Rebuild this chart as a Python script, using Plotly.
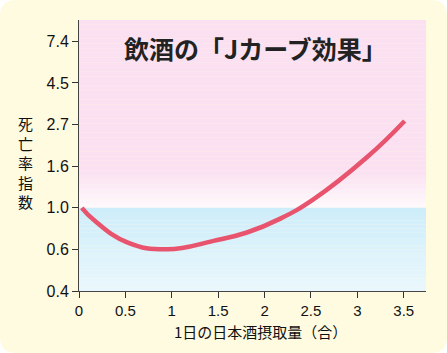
import math
import plotly.graph_objects as go

# data
intake_go = [0.03, 0.17, 0.52, 0.95, 1.45, 1.81, 2.17, 2.53, 3.10, 3.51]
mortality_index = [1.00, 0.855, 0.66, 0.607, 0.672, 0.743, 0.878, 1.11, 1.83, 2.84]

x_ticks = [0, 0.5, 1, 1.5, 2, 2.5, 3, 3.5]
x_ticklabels = ["0", "0.5", "1", "1.5", "2", "2.5", "3", "3.5"]
y_ticks = [math.exp(k / 2) for k in range(-2, 5)]
y_ticklabels = ["0.4", "0.6", "1.0", "1.6", "2.7", "4.5", "7.4"]

title_text = "飲酒の「Jカーブ効果」"
x_title = "1日の日本酒摂取量（合）"
y_title = "死亡率指数"

XMAX = 3.74
Y_LO = math.exp(-1)
Y_HI = math.exp(2.257)

W, H = 447, 353
ML, MR, MT, MB = 79, 21, 20, 62
PW, PH = W - ML - MR, H - MT - MB

def px_to_paper(px, py):
    return (px - ML) / PW, (H - MB - py) / PH

def lerp(c1, c2, t):
    return "rgb(%d,%d,%d)" % tuple(round(a + (b - a) * t) for a, b in zip(c1, c2))

shapes = []
# page background: rounded yellow card
r = 16
def P(px, py):
    x, y = px_to_paper(px, py)
    return "%.5f %.5f" % (x, y)
path = ("M " + P(r, 0) + " L " + P(W - r, 0) + " Q " + P(W, 0) + " " + P(W, r) +
        " L " + P(W, H - r) + " Q " + P(W, H) + " " + P(W - r, H) +
        " L " + P(r, H) + " Q " + P(0, H) + " " + P(0, H - r) +
        " L " + P(0, r) + " Q " + P(0, 0) + " " + P(r, 0) + " Z")
shapes.append(dict(type="path", xref="paper", yref="paper", layer="below",
                   path=path, fillcolor="#fffbe1", line=dict(width=0)))

# pink region above 1.0 with soft white fade near 1.0
n = 40
top_ln, mid_ln, bot_ln = 2.257, 0.0, -1.0
pink = (250, 224, 241)
white = (254, 250, 252)
for i in range(n):
    a = mid_ln + (top_ln - mid_ln) * i / n
    b = mid_ln + (top_ln - mid_ln) * (i + 1) / n
    t = min(1.0, ((a + b) / 2) / 0.45)
    shapes.append(dict(type="rect", xref="x", yref="y", layer="below",
                       x0=0, x1=XMAX, y0=math.exp(a), y1=math.exp(b),
                       fillcolor=lerp(white, pink, t), line=dict(width=0)))
blue_top = (205, 237, 250)
blue_bot = (234, 247, 253)
m = 20
for i in range(m):
    a = mid_ln - (mid_ln - bot_ln) * i / m
    b = mid_ln - (mid_ln - bot_ln) * (i + 1) / m
    t = (i + 0.5) / m
    shapes.append(dict(type="rect", xref="x", yref="y", layer="below",
                       x0=0, x1=XMAX, y0=math.exp(b), y1=math.exp(a),
                       fillcolor=lerp(blue_top, blue_bot, t), line=dict(width=0)))

fig = go.Figure()
fig.add_trace(go.Scatter(x=intake_go, y=mortality_index, mode="lines",
                         line=dict(color="#e8546e", width=4.5, shape="spline", smoothing=1.3),
                         hoverinfo="skip", showlegend=False))

font_jp = "Noto Sans CJK JP"
ytickfont = dict(family="Liberation Sans, Arial", size=16, color="#111")
xtickfont = dict(family="Liberation Sans, Arial", size=15, color="#111")
tx, ty = px_to_paper(256, 48)
yx, yy = px_to_paper(25, 162)
xx, xy = px_to_paper(260, 331)
fig.update_layout(
    width=W, height=H,
    margin=dict(l=ML, r=MR, t=MT, b=MB),
    paper_bgcolor="white",
    plot_bgcolor="rgba(0,0,0,0)",
    shapes=shapes,
    showlegend=False,
    xaxis=dict(range=[0, XMAX], tickvals=x_ticks, ticktext=x_ticklabels,
               ticks="outside", ticklen=6, tickcolor="#333", showgrid=False, zeroline=False,
               showline=True, linecolor="#444", linewidth=1, tickfont=xtickfont),
    yaxis=dict(type="log", range=[math.log10(Y_LO), math.log10(Y_HI)],
               tickvals=y_ticks, ticktext=y_ticklabels,
               ticks="outside", ticklen=6, tickcolor="#333", showgrid=False, zeroline=False,
               showline=True, linecolor="#444", linewidth=1, tickfont=ytickfont),
    annotations=[
        dict(text="<b>" + title_text + "</b>", xref="paper", yref="paper", x=tx, y=ty,
             xanchor="center", yanchor="middle", showarrow=False,
             font=dict(family=font_jp, size=25, color="#222")),
        dict(text="<br>".join(list(y_title)), xref="paper", yref="paper", x=yx, y=yy,
             xanchor="center", yanchor="middle", showarrow=False,
             font=dict(family=font_jp, size=15, color="#111")),
        dict(text=x_title, xref="paper", yref="paper", x=xx, y=xy,
             xanchor="center", yanchor="middle", showarrow=False,
             font=dict(family=font_jp, size=15, color="#111")),
    ],
)

fig.write_html("out.html")
